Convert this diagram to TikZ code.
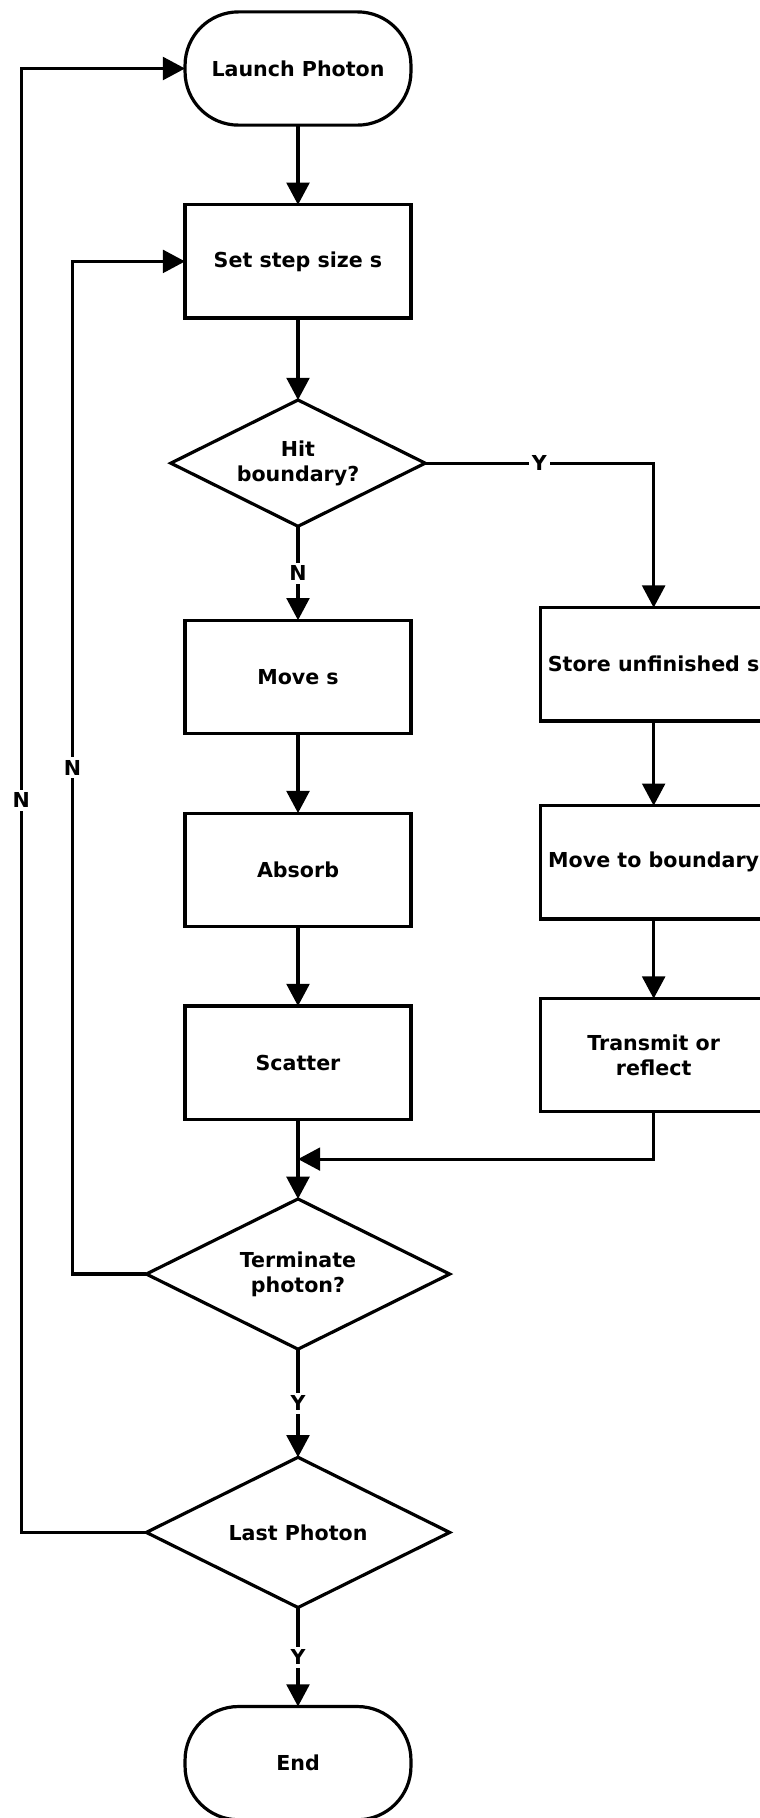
\documentclass[tikz,border=0pt]{standalone}
\usepackage{fontspec}
\setmainfont{DejaVu Sans}
\usepackage{tikz}
\usetikzlibrary{arrows.meta,calc,positioning,shapes.geometric}
\tikzset{
  procbox/.style={draw=black,line width=1.6pt,fill=white,minimum width=39.7mm,
    minimum height=19.9mm,align=center,inner sep=2pt,outer sep=0pt,
    font=\fontsize{10.3}{12.6}\selectfont\bfseries},
  termbox/.style={procbox,rounded corners=9.4mm},
  decbox/.style={procbox,diamond,aspect=2,inner sep=0pt,
    minimum width=53.3mm,minimum height=26.4mm},
  flow/.style={-{Triangle[length=3.9mm,width=4mm]},line width=1.6pt},
  answer/.style={fill=white,inner sep=1.5pt,font=\fontsize{10.3}{12.6}\selectfont\bfseries}
}
\begin{document}
\begin{tikzpicture}[node distance=14mm and 22.8mm]
  \useasboundingbox (-52.37mm,12.04mm) rectangle (81.01mm,-307.44mm);

  \node[termbox] (launch) at (0,0) {Launch Photon};
  \node[procbox,below=of launch] (setstep) {Set step size s};
  \node[decbox,minimum width=44.7mm,minimum height=22.2mm,below=14.4mm of setstep] (hit) {Hit\\boundary?};
  \node[procbox,below=16.5mm of hit] (move) {Move s};
  \node[procbox,below=of move] (absorb) {Absorb};
  \node[procbox,below=of absorb] (scatter) {Scatter};
  \node[decbox,below=of scatter] (term) {Terminate\\photon?};
  \node[decbox,below=19mm of term] (last) {Last Photon};
  \node[termbox,below=17.4mm of last] (finish) {End};

  \node[procbox,right=of move,yshift=2.2mm] (store) {Store unfinished s};
  \node[procbox,below=14.9mm of store] (tobound) {Move to boundary};
  \node[procbox,below=of tobound] (transmit) {Transmit or\\reflect};

  \coordinate (join) at ($(scatter.south)!0.5!(term.north)$);

  \draw[flow] (launch) -- (setstep);
  \draw[flow] (setstep) -- (hit);
  \draw[flow] (hit) -- node[answer]{N} (move);
  \draw[flow] (hit.east) -| node[answer,pos=0.25]{Y} (store.north);
  \draw[flow] (move) -- (absorb);
  \draw[flow] (absorb) -- (scatter);
  \draw[flow] (scatter) -- (term);
  \draw[flow] (store) -- (tobound);
  \draw[flow] (tobound) -- (transmit);
  \draw[flow] (transmit.south) |- (join);
  \draw[flow] (term.west) -- ++(-13mm,0) |- node[answer,pos=0.25]{N} (setstep.west);
  \draw[flow] (term) -- node[answer]{Y} (last);
  \draw[flow] (last.west) -- ++(-22mm,0) |- node[answer,pos=0.25]{N} (launch.west);
  \draw[flow] (last) -- node[answer]{Y} (finish);
\end{tikzpicture}
\end{document}
